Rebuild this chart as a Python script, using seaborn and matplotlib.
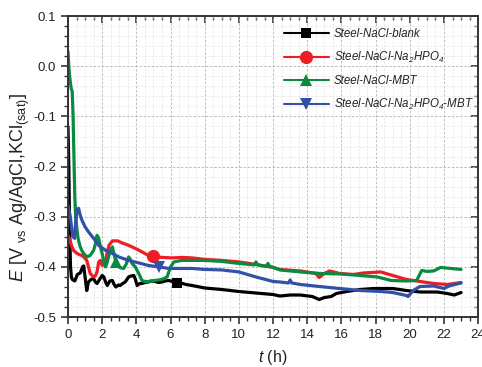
import numpy as np
import pandas as pd
import matplotlib
matplotlib.use("Agg")
import matplotlib.pyplot as plt
from matplotlib.ticker import MultipleLocator, FormatStrFormatter
import seaborn as sns

# Open-circuit potential vs. time for steel in NaCl with/without inhibitors
t_blank = [0, 0.05, 0.1, 0.15, 0.2, 0.25, 0.4, 0.55, 0.72, 0.85, 0.92, 1.0, 1.1, 1.2, 1.35,
           1.5, 1.6, 1.7, 1.85, 2.0, 2.1, 2.2, 2.3, 2.45, 2.6, 2.7, 2.8, 2.95, 3.05, 3.2,
           3.35, 3.55, 3.7, 3.85, 3.95, 4.05, 4.2, 4.33, 4.5, 4.7, 4.9, 5.1, 5.3, 5.5, 5.7,
           5.9, 6.1, 6.4, 6.7, 6.9, 7.26, 8.0, 9.0, 10.0, 11.0, 12.0, 12.4, 13.0, 13.6,
           14.3, 14.7, 15.0, 15.4, 15.7, 16.3, 17.1, 17.9, 19.0, 19.8, 20.6, 21.6, 22.2,
           22.6, 23.0]
E_blank = [-0.12, -0.20, -0.33, -0.40, -0.42, -0.425, -0.428, -0.415, -0.412, -0.40, -0.398,
           -0.42, -0.447, -0.43, -0.425, -0.423, -0.43, -0.433, -0.425, -0.417, -0.42, -0.43,
           -0.437, -0.428, -0.427, -0.435, -0.44, -0.436, -0.437, -0.433, -0.43, -0.42,
           -0.418, -0.417, -0.425, -0.437, -0.433, -0.433, -0.431, -0.43, -0.428, -0.429,
           -0.431, -0.43, -0.428, -0.427, -0.429, -0.432, -0.433, -0.435, -0.437, -0.442,
           -0.445, -0.449, -0.452, -0.455, -0.458, -0.456, -0.456, -0.459, -0.465, -0.461,
           -0.459, -0.453, -0.449, -0.445, -0.443, -0.443, -0.447, -0.45, -0.45, -0.453,
           -0.456, -0.451]

t_hpo = [0, 0.1, 0.23, 0.35, 0.53, 0.7, 0.82, 1.0, 1.1, 1.2, 1.3, 1.5, 1.6, 1.7, 1.8, 1.9,
         2.0, 2.1, 2.2, 2.3, 2.4, 2.6, 2.9, 3.16, 3.55, 3.94, 4.33, 4.7, 5.0, 5.5, 6.1, 6.7,
         7.26, 8.0, 9.0, 10.0, 11.0, 12.0, 12.4, 13.6, 14.5, 14.7, 15.0, 15.3, 15.9, 16.7,
         17.3, 18.3, 19.0, 19.8, 20.6, 21.4, 22.2, 23.0]
E_hpo = [-0.337, -0.345, -0.36, -0.368, -0.373, -0.376, -0.377, -0.383, -0.387, -0.40,
         -0.413, -0.42, -0.418, -0.41, -0.39, -0.387, -0.397, -0.393, -0.39, -0.37, -0.357,
         -0.348, -0.348, -0.352, -0.357, -0.363, -0.37, -0.377, -0.379, -0.381, -0.382,
         -0.381, -0.382, -0.385, -0.387, -0.39, -0.395, -0.401, -0.405, -0.408, -0.413,
         -0.421, -0.413, -0.408, -0.413, -0.415, -0.412, -0.41, -0.417, -0.425, -0.429,
         -0.433, -0.435, -0.431]

t_mbt = [0, 0.05, 0.1, 0.15, 0.2, 0.25, 0.3, 0.35, 0.4, 0.45, 0.5, 0.53, 0.6, 0.72, 0.82,
         0.92, 1.1, 1.3, 1.5, 1.6, 1.7, 1.8, 1.9, 2.0, 2.1, 2.2, 2.3, 2.4, 2.5, 2.6, 2.7,
         2.8, 2.97, 3.1, 3.26, 3.4, 3.55, 3.65, 3.75, 3.94, 4.14, 4.33, 4.5, 4.7, 5.1, 5.5,
         5.8, 6.0, 6.2, 6.67, 7.26, 8.0, 9.0, 10.0, 10.9, 11.0, 11.1, 11.6, 11.7, 11.8,
         12.0, 12.4, 13.6, 14.7, 15.9, 17.1, 18.1, 18.9, 19.8, 20.4, 20.7, 21.0, 21.4,
         21.8, 22.4, 23.0]
E_mbt = [0.03, 0.0, -0.02, -0.035, -0.046, -0.05, -0.1, -0.18, -0.26, -0.3, -0.315,
         -0.327, -0.345, -0.36, -0.368, -0.373, -0.38, -0.377, -0.367, -0.355, -0.337,
         -0.343, -0.36, -0.373, -0.39, -0.4, -0.39, -0.377, -0.365, -0.36, -0.375, -0.39,
         -0.4, -0.402, -0.403, -0.395, -0.38, -0.385, -0.393, -0.40, -0.413, -0.427,
         -0.429, -0.429, -0.427, -0.425, -0.42, -0.40, -0.39, -0.387, -0.387, -0.387,
         -0.389, -0.393, -0.396, -0.39, -0.396, -0.399, -0.393, -0.399, -0.401, -0.406,
         -0.41, -0.413, -0.414, -0.417, -0.42, -0.427, -0.428, -0.427, -0.407, -0.409,
         -0.408, -0.401, -0.403, -0.405]

t_hpo_mbt = [0, 0.14, 0.23, 0.3, 0.39, 0.45, 0.53, 0.62, 0.72, 0.82, 1.0, 1.2, 1.5, 1.8,
             2.2, 2.6, 2.97, 3.55, 4.14, 4.7, 5.3, 5.9, 6.67, 7.26, 8.0, 9.0, 10.0, 11.0,
             12.0, 12.4, 12.9, 13.0, 13.1, 13.6, 14.7, 15.9, 17.1, 18.3, 19.0, 19.8, 19.9,
             20.2, 20.6, 21.4, 22.0, 22.3, 23.0]
E_hpo_mbt = [-0.277, -0.30, -0.327, -0.34, -0.343, -0.31, -0.287, -0.283, -0.297, -0.307,
             -0.32, -0.33, -0.343, -0.357, -0.367, -0.373, -0.38, -0.387, -0.392, -0.397,
             -0.40, -0.403, -0.403, -0.403, -0.405, -0.406, -0.41, -0.42, -0.429, -0.43,
             -0.432, -0.426, -0.432, -0.435, -0.439, -0.443, -0.447, -0.449, -0.451, -0.457,
             -0.459, -0.447, -0.439, -0.438, -0.443, -0.438, -0.432]

labels = ["Steel-NaCl-blank",
          "Steel-NaCl-Na$_2$HPO$_4$",
          "Steel-NaCl-MBT",
          "Steel-NaCl-Na$_2$HPO$_4$-MBT"]
colors = ["#000000", "#ee1d23", "#0a8a41", "#3151a8"]
markers = ["s", "o", "^", "v"]
marker_sizes = [6.5, 9.5, 8.5, 8.5]
marker_times = [6.4, 5.0, 2.8, 5.3]

series = [(t_blank, E_blank), (t_hpo, E_hpo), (t_mbt, E_mbt), (t_hpo_mbt, E_hpo_mbt)]

sns.set_theme(style="ticks")
plt.rcParams["font.family"] = ["Liberation Sans", "DejaVu Sans"]
plt.rcParams["mathtext.fontset"] = "custom"
plt.rcParams["mathtext.rm"] = "Liberation Sans"
plt.rcParams["mathtext.it"] = "Liberation Sans:italic"
plt.rcParams["mathtext.default"] = "regular"
plt.rcParams["axes.unicode_minus"] = False

fig = plt.figure(figsize=(4.82, 3.67), dpi=100)
ax = fig.add_axes([0.141, 0.136, 0.851, 0.820])

for (t, E), lab, col, mk, ms, mt in zip(series, labels, colors, markers, marker_sizes, marker_times):
    df = pd.DataFrame({"t": t, "E": E})
    idx = int(np.argmin(np.abs(np.asarray(t) - mt)))
    sns.lineplot(data=df, x="t", y="E", ax=ax, color=col, lw=2.3, estimator=None,
                 sort=False, marker=mk, markersize=ms, markevery=[idx],
                 markeredgewidth=0, label=lab)

ax.set_xlim(0, 24)
ax.set_ylim(-0.5, 0.1)
ax.xaxis.set_major_locator(MultipleLocator(2))
ax.xaxis.set_minor_locator(MultipleLocator(0.5))
ax.yaxis.set_major_locator(MultipleLocator(0.1))
ax.yaxis.set_minor_locator(MultipleLocator(0.02))
ax.yaxis.set_major_formatter(FormatStrFormatter("%.1f"))

ax.grid(which="major", ls=(0, (3, 2)), color="#b4b4b4", lw=0.6)
ax.grid(which="minor", ls=(0, (3, 2)), color="#e2e2e2", lw=0.5)
ax.set_axisbelow(True)

for sp in ax.spines.values():
    sp.set_visible(True)
    sp.set_linewidth(1.4)
    sp.set_color("#333333")

ax.tick_params(which="both", direction="out", top=False, right=False, color="#333333",
               labelsize=9.5, labelcolor="#222222")
ax.tick_params(which="major", length=5, width=1.2)
ax.tick_params(which="minor", length=3, width=1.0)
sec = ax.secondary_xaxis("top")
sec.xaxis.set_major_locator(MultipleLocator(2))
sec.xaxis.set_minor_locator(MultipleLocator(0.5))
sec.tick_params(which="both", direction="in", labeltop=False, color="#333333")
sec.tick_params(which="major", length=5, width=1.2)
sec.tick_params(which="minor", length=3, width=1.0)
sec.spines["top"].set_visible(False)
secy = ax.secondary_yaxis("right")
secy.yaxis.set_major_locator(MultipleLocator(0.1))
secy.yaxis.set_minor_locator(MultipleLocator(0.02))
secy.tick_params(which="both", direction="in", labelright=False, color="#333333")
secy.tick_params(which="major", length=5, width=1.2)
secy.tick_params(which="minor", length=3, width=1.0)
secy.spines["right"].set_visible(False)

ax.set_xlabel("$\\it{t}$ (h)", fontsize=11.5, color="#222222", labelpad=5)
ax.set_ylabel("$\\it{E}$ [V $_{vs}$ Ag/AgCl,KCl$_{(sat)}$]", fontsize=13,
              color="#222222")
ax.yaxis.set_label_coords(-0.088, 0.43)

leg = ax.legend(loc="upper left", bbox_to_anchor=(0.515, 0.975), frameon=False,
                fontsize=8.3, handlelength=3.9, labelspacing=0.85, handletextpad=0.45,
                borderaxespad=0)
for txt in leg.get_texts():
    txt.set_fontstyle("italic")
    txt.set_color("#222222")
for h in leg.legend_handles:
    h.set_linewidth(1.5)

fig.savefig("out.png", dpi=100)
